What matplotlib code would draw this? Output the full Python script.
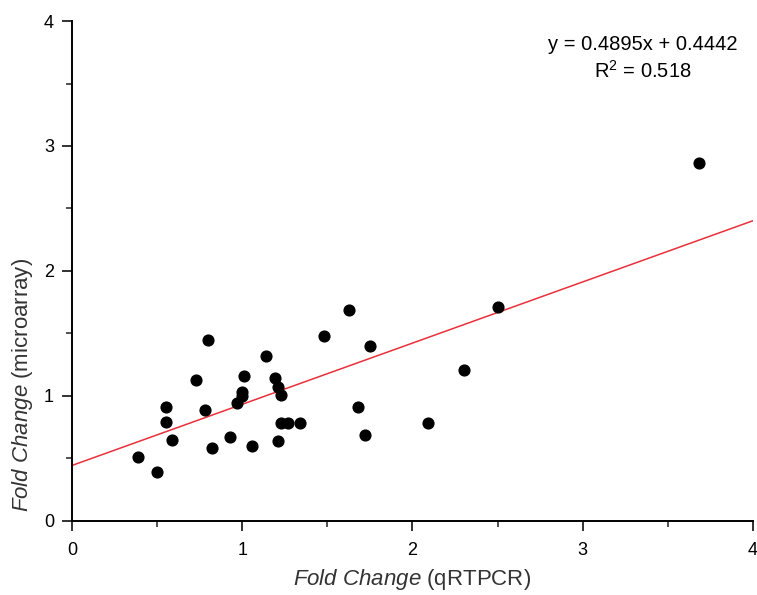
import numpy as np
import matplotlib.pyplot as plt
from matplotlib.ticker import MultipleLocator

plt.rcParams['font.family'] = ['Liberation Sans', 'DejaVu Sans']
plt.rcParams['mathtext.fontset'] = 'custom'
plt.rcParams['mathtext.rm'] = 'Liberation Sans'
plt.rcParams['mathtext.it'] = 'Liberation Sans:italic'

# fold change values
qrtpcr = [0.39, 0.50, 0.55, 0.55, 0.59, 0.73, 0.78, 0.80, 0.82, 0.93, 0.97,
          1.00, 1.00, 1.01, 1.06, 1.14, 1.19, 1.21, 1.23, 1.21, 1.23, 1.27,
          1.34, 1.48, 1.63, 1.68, 1.72, 1.75, 2.09, 2.30, 2.50, 3.68]
microarray = [0.51, 0.39, 0.91, 0.79, 0.65, 1.13, 0.89, 1.45, 0.58, 0.67, 0.94,
              1.03, 1.00, 1.16, 0.60, 1.32, 1.14, 1.07, 1.01, 0.64, 0.78, 0.78,
              0.78, 1.48, 1.69, 0.91, 0.69, 1.40, 0.78, 1.21, 1.71, 2.86]
slope, intercept, r2 = 0.4895, 0.4442, 0.518

fig = plt.figure(figsize=(7.57, 5.95), dpi=100)
ax = fig.add_axes([0.0951, 0.1244, 0.8996, 0.8403])

ax.scatter(qrtpcr, microarray, s=60, color='black', zorder=3)
xs = np.array([0, 4])
ax.plot(xs, slope * xs + intercept, color='#e8303a', lw=1.1, zorder=2)

ax.set_xlim(0, 4)
ax.set_ylim(0, 4)
ax.xaxis.set_major_locator(MultipleLocator(1))
ax.yaxis.set_major_locator(MultipleLocator(1))
ax.xaxis.set_minor_locator(MultipleLocator(0.5))
ax.yaxis.set_minor_locator(MultipleLocator(0.5))
for s in ['top', 'right']:
    ax.spines[s].set_visible(False)
for s in ['left', 'bottom']:
    ax.spines[s].set_linewidth(1.4)
ax.tick_params(which='major', length=7, width=1.3, labelsize=13, color='#222222')
ax.tick_params(which='minor', length=4, width=1.1, color='#222222')
ax.tick_params(axis='x', pad=8)
ax.tick_params(axis='y', pad=6)

ax.set_xlabel(r'$\it{Fold\ Change}$ (qRTPCR)', fontsize=16, color='#333333', labelpad=6)
ax.set_ylabel(r'$\it{Fold\ Change}$ (microarray)', fontsize=16, color='#333333')
ax.yaxis.set_label_coords(-0.054, 0.272)

ax.text(0.838, 0.925, f'y = {slope}x + {intercept}\n' + r'R$^2$ = ' + f'{r2}',
        transform=ax.transAxes, ha='center', va='center', fontsize=14.5, linespacing=1.3)

fig.savefig('out.png', dpi=100)
